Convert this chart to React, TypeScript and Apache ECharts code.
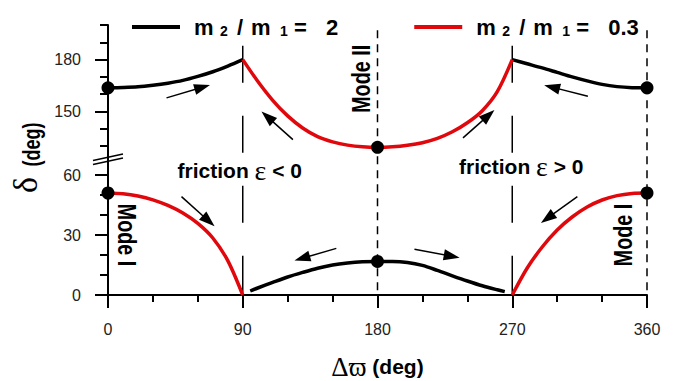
import React, { useEffect, useRef } from "react";
import * as echarts from "echarts";

// ---- data (Δϖ in deg, δ in deg) ----
const blackUpperLeftX = [0, 10, 20, 30, 40, 50, 60, 70, 80, 90];
const blackUpperLeftY = [163.7, 163.9, 164.3, 165.2, 166.4, 168.0, 170.3, 173.0, 176.3, 180.0];
const blackUpperRightX = [270, 280, 290, 300, 310, 320, 330, 340, 350, 360];
const blackUpperRightY = [180.0, 177.6, 175.2, 172.6, 170.0, 167.7, 165.7, 164.4, 163.8, 163.7];
const redUpperX = [90, 100, 110, 120, 130, 140, 150, 160, 170, 180, 190, 200, 210, 220, 230, 240, 250, 260, 270];
const redUpperY = [180, 167.5, 156.5, 147.5, 140.5, 135.5, 132.5, 130.6, 129.6, 129.3, 129.6, 130.5, 132, 134.5, 138.3, 143.5, 150.5, 161.5, 180];

const redLowerLeftX = [0, 10, 20, 30, 40, 50, 60, 70, 80, 90];
const redLowerLeftY = [51, 50.6, 49.5, 47.6, 44.8, 41, 35.8, 28.5, 17.2, 0];
const blackLowerX = [95, 100, 110, 120, 130, 140, 150, 160, 170, 180, 190, 200, 210, 220, 230, 240, 250, 260, 265];
const blackLowerY = [2, 3.5, 6.3, 9, 11.3, 13.4, 15, 16, 16.6, 16.8, 16.8, 16.3, 14.8, 12.3, 9.6, 7, 4.6, 2.6, 1.7];
const redLowerRightX = [270, 280, 290, 300, 310, 320, 330, 340, 350, 360];
const redLowerRightY = [0, 13.5, 24, 32.5, 39, 44, 47.5, 49.7, 50.8, 51];

const upperDotsX = [0, 180, 360];
const upperDotsY = [163.7, 129.3, 163.7];
const lowerDotsX = [0, 180, 360];
const lowerDotsY = [51, 16.8, 51];

// arrows: [tailX, tailY, headX, headY]
const upperArrows = [
  [39.1, 157.9, 63.0, 164.0],
  [123.5, 133.8, 106.5, 146.9],
  [237.1, 134.8, 254.1, 147.8],
  [320.5, 158.8, 296.5, 164.1],
];
const lowerArrows = [
  [49.1, 49.2, 67.2, 37.0],
  [152.5, 23.3, 129.7, 18.35],
  [204.7, 22.9, 229.6, 19.4],
  [313.5, 49.2, 293.5, 38.4],
];

const upperTicks = [130, 140, 150, 160, 170, 180, 190, 200];
const upperLabels = [150, 180];
const lowerTicks = [0, 10, 20, 30, 40, 50, 60];
const lowerLabels = [0, 30, 60];
const longDashX = [90, 270];
const shortDashX = [180, 360];

const S_BLACK = "m2/m1 = 2";
const S_RED = "m2/m1 = 0.3";

const SANS = '"Liberation Sans", Arial, sans-serif';
const SERIF = '"Liberation Serif", "DejaVu Serif", serif';
const RED = "#e0080c";
const BLACK = "#000";

const zip = (xs: number[], ys: number[]) => xs.map((x, i) => [x, ys[i]]);

export default function App() {
  const ref = useRef<HTMLDivElement>(null);
  useEffect(() => {
    const chart = echarts.init(ref.current!, null, { renderer: "svg" });

    const base = { fontFamily: SANS, fontWeight: "bold", color: BLACK, fontSize: 22, lineHeight: 22, verticalAlign: "middle" };
    const sub = { fontFamily: SANS, fontWeight: "bold", color: BLACK, fontSize: 14, lineHeight: 14, verticalAlign: "bottom", padding: [19, 0, 0, 0] };

    const lineSeries = (name: string, color: string, xs: number[], ys: number[], xi: number, yi: number) => ({
      type: "line",
      name,
      xAxisIndex: xi,
      yAxisIndex: yi,
      data: zip(xs, ys),
      showSymbol: false,
      smooth: 0.3,
      color,
      lineStyle: { color, width: 3.5 },
      z: 2,
      silent: true,
    });

    const arrowLines = (arr: number[][]) =>
      arr.map((a) => [
        { coord: [a[0], a[1]] },
        { coord: [a[2], a[3]] },
      ]);

    const markLineCfg = (arr: number[][]) => ({
      silent: true,
      symbol: ["none", "triangle"],
      symbolSize: [11, 16],
      label: { show: false },
      lineStyle: { color: BLACK, width: 1.5, type: "solid", opacity: 1 },
      itemStyle: { color: BLACK, opacity: 1 },
      emphasis: { disabled: true },
      data: arrowLines(arr),
    });

    const axisLineStyle = { color: BLACK, width: 2 };

    const yAxisPair = (grid: number, min: number, max: number, ticks: number[], labels: number[]) => [
      {
        type: "value",
        gridIndex: grid,
        position: "left",
        min,
        max,
        axisLine: { show: true, onZero: false, lineStyle: axisLineStyle },
        axisTick: { show: true, length: 8, lineStyle: axisLineStyle, customValues: ticks },
        axisLabel: { show: false },
        splitLine: { show: false },
      },
      {
        type: "value",
        gridIndex: grid,
        position: "left",
        offset: 0,
        min,
        max,
        axisLine: { show: false, onZero: false },
        axisTick: { show: true, length: 13, lineStyle: axisLineStyle, customValues: labels },
        axisLabel: { show: true, margin: 27, fontSize: 16, color: "#222", fontFamily: SANS, customValues: labels },
        splitLine: { show: false },
      },
    ];

    const option: any = {
      animation: false,
      backgroundColor: "#fff",
      textStyle: { fontFamily: SANS },
      legend: {
        data: [{ name: S_BLACK }, { name: S_RED }],
        left: 127,
        top: 0,
        icon: "rect",
        itemWidth: 48,
        itemHeight: 4,
        itemGap: 76,
        selectedMode: false,
        formatter: (name: string) => {
          const v = name === S_BLACK ? "2" : "0.3";
          return `{g| }{m1|m}{s1|2}{sl|/}{m2|m}{s2|1}{eq|=}{v|${v}}`;
        },
        textStyle: {
          fontFamily: SANS,
          fontWeight: "bold",
          fontSize: 22,
          color: BLACK,
          rich: {
            g: { ...base, width: 9 },
            m1: { ...base, width: 26 },
            s1: { ...sub, width: 17 },
            sl: { ...base, width: 14 },
            m2: { ...base, width: 29 },
            s2: { ...sub, width: 14 },
            eq: { ...base, width: 32 },
            v: { ...base },
          },
        },
      },
      grid: [
        { left: 108, right: 30, top: 25, height: 135, containLabel: false, outerBoundsMode: "none" },
        { left: 108, right: 30, top: 163, height: 132, containLabel: false, outerBoundsMode: "none" },
      ],
      xAxis: [
        {
          type: "value",
          gridIndex: 0,
          min: 0,
          max: 360,
          show: false,
          splitLine: { show: false },
        },
        {
          type: "value",
          gridIndex: 1,
          position: "bottom",
          min: 0,
          max: 360,
          interval: 90,
          axisLine: { show: true, onZero: false, lineStyle: axisLineStyle },
          axisTick: { show: true, length: 13, lineStyle: axisLineStyle },
          minorTick: { show: true, splitNumber: 3, length: 7, lineStyle: axisLineStyle },
          axisLabel: { margin: 26, fontSize: 16, color: "#222", fontFamily: SANS },
          splitLine: { show: false },
          minorSplitLine: { show: false },
          name: "{g|Δϖ}{d| (deg)}",
          nameLocation: "middle",
          nameGap: 58,
          nameTextStyle: {
            rich: {
              g: { fontFamily: SERIF, fontSize: 27, color: BLACK },
              d: { fontFamily: SANS, fontWeight: "bold", fontSize: 21, color: BLACK },
            },
          },
        },
      ],
      yAxis: [...yAxisPair(0, 122, 200, upperTicks, upperLabels), ...yAxisPair(1, 0, 66, lowerTicks, lowerLabels)],
      series: [
        lineSeries(S_BLACK, BLACK, blackUpperLeftX, blackUpperLeftY, 0, 0),
        lineSeries(S_BLACK, BLACK, blackUpperRightX, blackUpperRightY, 0, 0),
        lineSeries(S_RED, RED, redUpperX, redUpperY, 0, 0),
        lineSeries(S_RED, RED, redLowerLeftX, redLowerLeftY, 1, 2),
        lineSeries(S_BLACK, BLACK, blackLowerX, blackLowerY, 1, 2),
        lineSeries(S_RED, RED, redLowerRightX, redLowerRightY, 1, 2),
        {
          type: "scatter",
          name: "dotsUpper",
          xAxisIndex: 0,
          yAxisIndex: 0,
          data: zip(upperDotsX, upperDotsY),
          symbolSize: 13,
          itemStyle: { color: BLACK, opacity: 1 },
          z: 3,
          silent: true,
          markLine: markLineCfg(upperArrows),
        },
        {
          type: "scatter",
          name: "dotsLower",
          xAxisIndex: 1,
          yAxisIndex: 2,
          data: zip(lowerDotsX, lowerDotsY),
          symbolSize: 13,
          itemStyle: { color: BLACK, opacity: 1 },
          z: 3,
          silent: true,
          markLine: markLineCfg(lowerArrows),
        },
      ],
    };

    chart.setOption(option);

    const p = (g: number, v: number[]) => chart.convertToPixel({ gridIndex: g } as any, v) as number[];

    const graphics: any[] = [];
    longDashX.forEach((x) => {
      const a = p(0, [x, 188]);
      const b = p(1, [x, 0]);
      graphics.push({
        type: "line",
        z: 1,
        silent: true,
        shape: { x1: a[0], y1: a[1], x2: b[0], y2: b[1] },
        style: { stroke: BLACK, lineWidth: 1.5, lineDash: [37, 33] },
      });
    });
    shortDashX.forEach((x) => {
      const a = p(0, [x, 197]);
      const b = p(1, [x, 0]);
      graphics.push({
        type: "line",
        z: 1,
        silent: true,
        shape: { x1: a[0], y1: a[1], x2: b[0], y2: b[1] },
        style: { stroke: BLACK, lineWidth: 1.5, lineDash: [8, 6] },
      });
    });

    // axis break marks
    const upBottom = p(0, [0, 122]);
    const lowTop = p(1, [0, 66]);
    const ax = upBottom[0];
    const mid = (upBottom[1] + lowTop[1]) / 2;
    graphics.push({
      type: "line",
      z: 4,
      silent: true,
      shape: { x1: ax, y1: upBottom[1], x2: ax, y2: lowTop[1] },
      style: { stroke: BLACK, lineWidth: 2 },
    });
    [-1, 3].forEach((d) => {
      graphics.push({
        type: "line",
        z: 4,
        silent: true,
        shape: { x1: ax - 15, y1: mid + d, x2: ax + 15, y2: mid + d - 6.5 },
        style: { stroke: BLACK, lineWidth: 1.5 },
      });
    });

    const vText = (pos: number[], text: string, rot: number, scale: number, size: number, weight: string, family: string) => ({
      type: "text",
      z: 5,
      silent: true,
      x: pos[0],
      y: pos[1],
      rotation: rot,
      scaleX: scale,
      style: {
        text,
        fontSize: size,
        fontWeight: weight,
        fontFamily: family,
        fill: BLACK,
        align: "center",
        verticalAlign: "middle",
        textAlign: "center",
        textVerticalAlign: "middle",
      },
    });

    graphics.push(vText(p(0, [169.3, 168.9]), "Mode II", Math.PI / 2, 0.76, 26, "bold", SANS));
    graphics.push(vText(p(1, [12.7, 30]), "Mode I", -Math.PI / 2, 0.76, 26, "bold", SANS));
    graphics.push(vText(p(1, [344, 30]), "Mode I", Math.PI / 2, 0.76, 26, "bold", SANS));

    const fricText = (pos: number[], sign: string) => ({
      type: "text",
      z: 5,
      silent: true,
      x: pos[0],
      y: pos[1],
      style: {
        text: `{b|friction }{e|ε}{b| ${sign} 0}`,
        align: "center",
        verticalAlign: "middle",
        textAlign: "center",
        textVerticalAlign: "middle",
        rich: {
          b: { fontFamily: SANS, fontWeight: "bold", fontSize: 21, fill: BLACK, color: BLACK },
          e: { fontFamily: SERIF, fontWeight: "normal", fontSize: 28, fill: BLACK, color: BLACK },
        },
      },
    });
    graphics.push(fricText(p(1, [88, 62.3]), "<"));
    graphics.push(fricText(p(1, [276, 64.5]), ">"));

    // y axis title
    graphics.push(vText([25, 185], "δ", Math.PI / 2, 1, 34, "normal", SERIF));
    graphics.push(vText([31.5, 144.5], "(deg)", Math.PI / 2, 0.75, 24, "bold", SANS));

    chart.setOption({ graphic: { elements: graphics } });

    return () => chart.dispose();
  }, []);
  return <div ref={ref} style={{ position: "fixed", left: 0, top: 0, width: 677, height: 381 }} />;
}
